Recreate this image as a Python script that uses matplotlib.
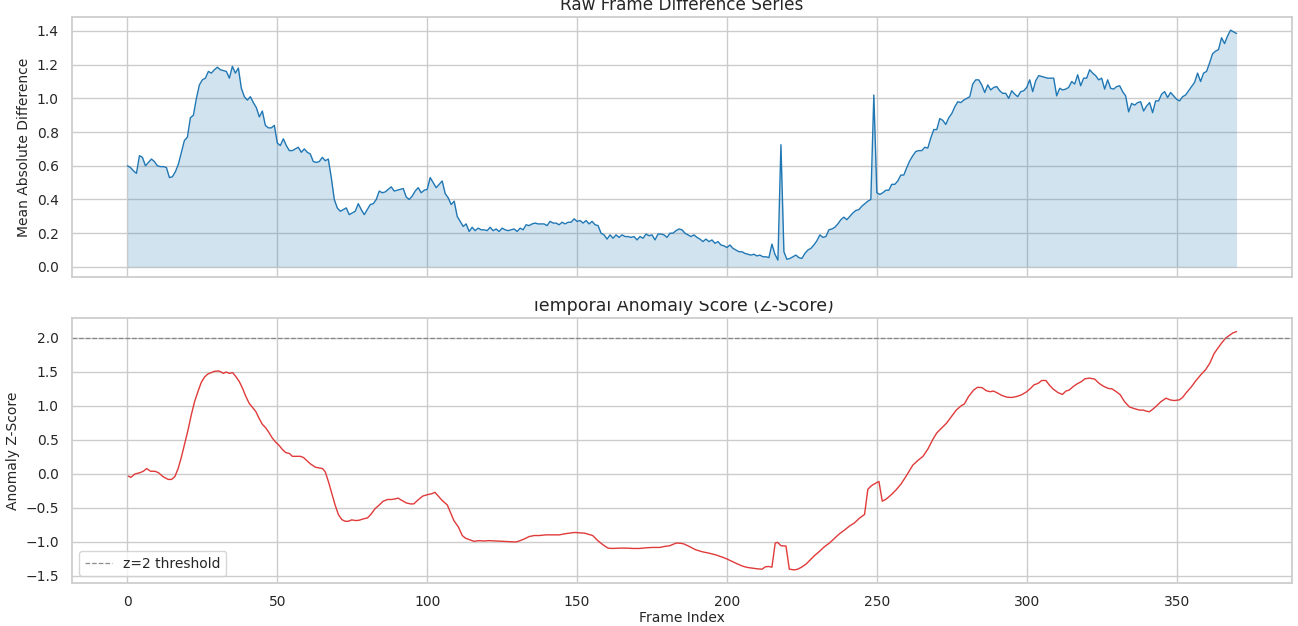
import matplotlib
matplotlib.use("Agg")
import matplotlib.pyplot as plt
import seaborn as sns
import numpy as np
from matplotlib.patches import Rectangle

# ---------------- data ----------------
raw_diff = [
    0.60, 0.59, 0.57, 0.555, 0.66, 0.65, 0.60, 0.62, 0.64, 0.625,
    0.60, 0.595, 0.595, 0.59, 0.53, 0.535, 0.565, 0.61, 0.68, 0.75,
    0.77, 0.885, 0.90, 1.00, 1.08, 1.11, 1.12, 1.16, 1.15, 1.17,
    1.185, 1.17, 1.165, 1.16, 1.12, 1.19, 1.15, 1.18, 1.06, 1.01,
    0.99, 1.01, 0.975, 0.945, 0.89, 0.925, 0.84, 0.825, 0.825, 0.84,
    0.735, 0.72, 0.76, 0.72, 0.69, 0.69, 0.70, 0.71, 0.68, 0.70,
    0.68, 0.67, 0.625, 0.62, 0.625, 0.65, 0.63, 0.64, 0.53, 0.40,
    0.35, 0.33, 0.34, 0.35, 0.31, 0.32, 0.33, 0.375, 0.34, 0.31,
    0.34, 0.37, 0.375, 0.40, 0.45, 0.44, 0.445, 0.46, 0.475, 0.45,
    0.455, 0.46, 0.465, 0.415, 0.40, 0.42, 0.45, 0.47, 0.44, 0.455,
    0.46, 0.53, 0.50, 0.47, 0.49, 0.51, 0.435, 0.41, 0.37, 0.39,
    0.30, 0.27, 0.24, 0.255, 0.21, 0.235, 0.215, 0.23, 0.22, 0.22,
    0.215, 0.235, 0.215, 0.225, 0.21, 0.23, 0.22, 0.215, 0.22, 0.225,
    0.21, 0.23, 0.22, 0.25, 0.245, 0.255, 0.26, 0.255, 0.255, 0.255,
    0.245, 0.27, 0.26, 0.26, 0.25, 0.265, 0.255, 0.265, 0.265, 0.285,
    0.27, 0.275, 0.26, 0.275, 0.255, 0.27, 0.25, 0.245, 0.20, 0.19,
    0.165, 0.19, 0.17, 0.19, 0.175, 0.19, 0.18, 0.18, 0.175, 0.18,
    0.16, 0.18, 0.17, 0.195, 0.185, 0.19, 0.16, 0.195, 0.195, 0.19,
    0.175, 0.20, 0.20, 0.215, 0.225, 0.22, 0.20, 0.19, 0.18, 0.19,
    0.175, 0.165, 0.15, 0.165, 0.15, 0.16, 0.14, 0.15, 0.13, 0.125,
    0.115, 0.13, 0.11, 0.10, 0.09, 0.09, 0.08, 0.075, 0.07, 0.075,
    0.065, 0.07, 0.06, 0.06, 0.055, 0.135, 0.075, 0.04, 0.725, 0.09,
    0.045, 0.05, 0.06, 0.07, 0.055, 0.05, 0.08, 0.10, 0.11, 0.13,
    0.155, 0.19, 0.175, 0.18, 0.22, 0.225, 0.235, 0.255, 0.28, 0.295,
    0.28, 0.30, 0.32, 0.335, 0.34, 0.36, 0.375, 0.39, 0.40, 1.02,
    0.44, 0.43, 0.44, 0.455, 0.455, 0.49, 0.49, 0.51, 0.545, 0.545,
    0.59, 0.63, 0.66, 0.685, 0.69, 0.69, 0.71, 0.705, 0.765, 0.815,
    0.815, 0.88, 0.87, 0.845, 0.885, 0.91, 0.95, 0.98, 0.975, 0.99,
    1.00, 1.01, 1.085, 1.11, 1.11, 1.08, 1.035, 1.08, 1.05, 1.065,
    1.07, 1.045, 1.03, 1.03, 1.00, 1.045, 1.025, 1.01, 1.04, 1.045,
    1.065, 1.11, 1.04, 1.105, 1.135, 1.13, 1.125, 1.12, 1.12, 1.12,
    1.015, 1.06, 1.05, 1.055, 1.065, 1.10, 1.085, 1.14, 1.075, 1.12,
    1.12, 1.17, 1.15, 1.135, 1.11, 1.12, 1.055, 1.11, 1.06, 1.055,
    1.07, 1.075, 1.04, 1.015, 0.92, 0.97, 0.96, 0.975, 0.98, 0.925,
    0.955, 0.975, 0.915, 0.985, 0.985, 1.025, 1.04, 1.005, 1.035, 1.015,
    0.995, 0.985, 1.01, 1.02, 1.045, 1.07, 1.095, 1.15, 1.10, 1.15,
    1.16, 1.21, 1.265, 1.28, 1.29, 1.36, 1.325, 1.37, 1.405, 1.395,
    1.385,
]
raw_frames = list(range(len(raw_diff)))

z_frames = [
    0.3, 1.1, 2.5, 4.2, 5.3, 6.4, 7.7, 9.2, 10.3, 11.9, 13.6, 14.7, 15.8, 16.9,
    18, 19.1, 20.2, 21.3, 22.4, 23.5, 24.6, 25.7, 26.8, 27.9, 29, 30.5, 31.2,
    32, 32.9, 34, 35.1, 36.2, 37.3, 38.4, 39.5, 40.6, 41.7, 42.8, 43.9, 45,
    46.1, 47.2, 48.3, 49.4, 50.6, 51.7, 52.8, 54.1, 55, 56.1, 57.7, 58.8, 60,
    61, 62.7, 63.8, 65.1, 66, 67.1, 68.2, 69.3, 70.4, 71.5, 72.6, 73.7, 74.8,
    76.2, 77.3, 78.7, 80.1, 81.2, 82.6, 83.9, 85.3, 86.8, 88.1, 89.4, 90.3,
    91.6, 93, 94.4, 95.5, 97, 98.5, 100, 101.5, 102.6, 103.7, 105, 106.7,
    107.8, 108.9, 110.4, 111.7, 112.8, 114, 115.6, 117.3, 119, 120.6, 122.9,
    125.1, 127.3, 129.6, 130.7, 132.4, 134, 135.7, 137.4, 139.6, 141.9, 144.1,
    145.8, 147.4, 149.1, 150.8, 152.5, 154.1, 155.2, 156.9, 158.6, 160.3,
    161.9, 164.2, 166.4, 168.6, 170.9, 173.1, 175.3, 177.6, 179.2, 180.9, 182,
    183.1, 184.8, 185.7, 187.4, 189.6, 191.9, 194.1, 196.3, 198.6, 200, 201.9,
    203.6, 205.2, 206.9, 208.6, 210.2, 211.7, 212.8, 213.9, 215, 216.1, 216.9,
    218, 219.7, 220.8, 222.5, 223.6, 224.7, 226.4, 228.1, 229.2, 230.8, 232.5,
    234.2, 235.9, 237.5, 239.2, 240.9, 242.5, 244.2, 245.9, 247, 248.1, 249.8,
    250.7, 251.8, 253.1, 254.8, 256.5, 258.1, 259.8, 262, 263.7, 265.4, 267,
    268.7, 270, 271.5, 273.2, 274.8, 276.5, 278.2, 279.2, 280.6, 282.3, 283.6,
    285.1, 286.5, 287.8, 288.9, 290.3, 291.7, 293.4, 295, 296.7, 298.3, 300,
    301.3, 302.4, 303.9, 305, 306.4, 307.5, 308.8, 310.5, 311.9, 313.1, 314.2,
    315.5, 316.8, 318.3, 319.4, 321, 322.7, 324.1, 325.4, 327.1, 328.5, 329.9,
    331.2, 332.6, 334.3, 336, 337.6, 338.9, 339.8, 340.9, 342, 343.4, 344.8,
    346.5, 347.8, 349.2, 350.9, 352, 353.1, 354.8, 356.4, 358.1, 359.7, 361.1,
    362.5, 363.6, 365, 366.4, 367.7, 368.8, 370,
]
z_scores = [
    -0.03, -0.05, 0.00, 0.02, 0.04, 0.08, 0.04, 0.04, 0.02, -0.04, -0.08, -0.08,
    -0.04, 0.08, 0.25, 0.45, 0.645, 0.87, 1.065, 1.21, 1.345, 1.425, 1.47, 1.49,
    1.51, 1.515, 1.50, 1.48, 1.50, 1.48, 1.49, 1.43, 1.36, 1.26, 1.14, 1.04, 0.98,
    0.92, 0.82, 0.73, 0.68, 0.61, 0.53, 0.47, 0.42, 0.36, 0.315, 0.30, 0.26, 0.26,
    0.26, 0.24, 0.19, 0.15, 0.10, 0.09, 0.08, 0.03, -0.12, -0.29, -0.46, -0.60,
    -0.67, -0.695, -0.695, -0.675, -0.685, -0.68, -0.66, -0.645, -0.595, -0.51,
    -0.46, -0.40, -0.375, -0.375, -0.365, -0.355,
    -0.39, -0.425, -0.44, -0.44, -0.38, -0.325, -0.305, -0.29, -0.27, -0.325,
    -0.39, -0.455, -0.57, -0.685, -0.78, -0.905, -0.945, -0.965, -0.99, -0.98,
    -0.985, -0.98, -0.985, -0.99, -0.995, -1.00, -0.985, -0.955, -0.92, -0.905,
    -0.905, -0.895, -0.895, -0.895, -0.88, -0.87, -0.86, -0.865, -0.87, -0.89,
    -0.905, -0.98, -1.04, -1.09, -1.095, -1.09, -1.09, -1.095, -1.095, -1.085,
    -1.08, -1.08, -1.065, -1.055, -1.035, -1.015, -1.02,
    -1.03, -1.065, -1.115, -1.145, -1.165, -1.19, -1.225, -1.25, -1.29, -1.325,
    -1.355, -1.375, -1.385, -1.395, -1.40, -1.365, -1.36, -1.37, -1.015, -1.005,
    -1.055, -1.06, -1.40, -1.41, -1.40, -1.375, -1.325, -1.25, -1.20, -1.14,
    -1.07, -1.015, -0.945, -0.88, -0.825, -0.765, -0.72, -0.65, -0.595, -0.225,
    -0.175, -0.13, -0.11, -0.40, -0.37, -0.305, -0.23, -0.145, -0.03, 0.13, 0.20,
    0.26, 0.365, 0.51, 0.605, 0.67, 0.745, 0.84, 0.94,
    1.005, 1.03, 1.14, 1.235, 1.275, 1.27, 1.225, 1.21, 1.22, 1.19, 1.155, 1.13,
    1.125, 1.14, 1.165, 1.21, 1.26, 1.31, 1.335, 1.375, 1.375, 1.31, 1.25, 1.195,
    1.17, 1.22, 1.235, 1.285, 1.325, 1.36, 1.40, 1.41, 1.395, 1.335, 1.295, 1.26,
    1.25, 1.21, 1.165, 1.065, 0.985, 0.96, 0.94, 0.94, 0.925, 0.915, 0.95, 1.005,
    1.065, 1.115, 1.09, 1.08, 1.09, 1.125, 1.19, 1.275, 1.37, 1.46, 1.535, 1.63,
    1.77, 1.84, 1.925, 2.00, 2.04, 2.075, 2.095,
]
threshold = 2.0

# ---------------- plot ----------------
sns.set_theme(style="whitegrid")
plt.rcParams['font.family'] = ['DejaVu Sans']

W, H = 1298, 626
fig = plt.figure(figsize=(W / 100, H / 100), dpi=100)
ax1 = fig.add_axes([72 / W, 1 - 277 / H, (1292 - 72) / W, (277 - 17) / H])
ax2 = fig.add_axes([72 / W, 1 - 583 / H, (1292 - 72) / W, (583 - 318) / H], sharex=ax1)

blue = '#1f77b4'
ax1.plot(raw_frames, raw_diff, color=blue, linewidth=1.0)
ax1.fill_between(raw_frames, raw_diff, 0, color=blue, alpha=0.2, linewidth=0)
ax1.set_ylabel('Mean Absolute Difference', fontsize=10)
ax1.set_title('Raw Frame Difference Series', fontsize=12.2, pad=5)
ax1.tick_params(axis='x', labelbottom=False)
ax1.tick_params(axis='both', labelsize=10)

ax2.plot(z_frames, z_scores, color='#e03a3a', linewidth=1.0)
ax2.axhline(threshold, color='gray', linestyle='--', linewidth=0.9, alpha=0.9,
            label='z=2 threshold')
ax2.set_ylabel('Anomaly Z-Score', fontsize=10)
ax2.set_xlabel('Frame Index', fontsize=10, labelpad=1)
ax2.set_title('Temporal Anomaly Score (Z-Score)', fontsize=12.5, pad=5)
ax2.tick_params(axis='both', labelsize=10)
ax2.tick_params(axis='x', pad=3)
ax2.legend(loc='lower left', fontsize=10)

ax1.set_xlim(-18.5, 388.5)
ax1.set_ylim(-0.06, 1.483)
ax2.set_ylim(-1.603, 2.294)
ax1.set_yticks(np.arange(0, 1.41, 0.2))
ax2.set_yticks(np.arange(-1.5, 2.01, 0.5))

# white band hiding the top of the lower title (as in the reference)
fig.patches.append(Rectangle((0, 1 - 301 / H), 1, (301 - 279) / H,
                             transform=fig.transFigure, facecolor='white',
                             edgecolor='none', zorder=5))

fig.savefig('out.png', dpi=100)
